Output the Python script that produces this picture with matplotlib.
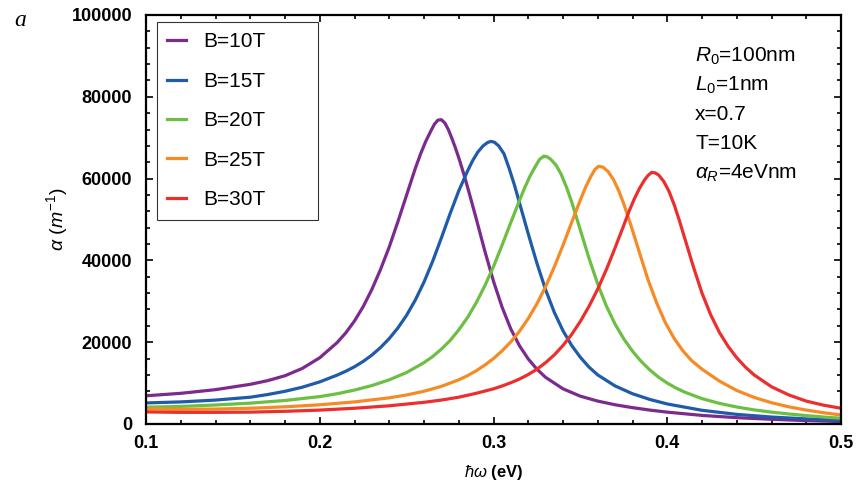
#!/usr/bin/env python
import matplotlib
matplotlib.use("Agg")
import matplotlib.pyplot as plt
from matplotlib.ticker import MultipleLocator

plt.rcParams['font.family'] = ['Liberation Sans', 'DejaVu Sans']
plt.rcParams['mathtext.fontset'] = 'custom'
plt.rcParams['mathtext.rm'] = 'Liberation Sans'
plt.rcParams['mathtext.it'] = 'Liberation Sans:italic'
plt.rcParams['mathtext.bf'] = 'Liberation Sans:bold'

# absorption coefficient (hbar*omega in eV, alpha in 1/m)
x_b10 = [0.10, 0.12, 0.14, 0.16, 0.17, 0.18, 0.19, 0.20, 0.21, 0.215, 0.22, 0.225,
         0.23, 0.235, 0.24, 0.245, 0.25, 0.255, 0.258, 0.261, 0.264, 0.266, 0.268,
         0.270, 0.272, 0.274, 0.276, 0.278, 0.28, 0.283, 0.286, 0.29, 0.295, 0.30,
         0.305, 0.31, 0.315, 0.32, 0.325, 0.33, 0.34, 0.35, 0.36, 0.37, 0.38, 0.39,
         0.40, 0.42, 0.44, 0.46, 0.48, 0.50]
y_b10 = [6900, 7500, 8400, 9700, 10600, 11800, 13600, 16200, 19900, 22300, 25200, 28700,
         32900, 37800, 43300, 49500, 56000, 62500, 66000, 69100, 71700, 73300, 74300,
         74400, 73600, 72000, 69900, 67600, 65100, 61000, 56500, 50300, 42300, 34900,
         28500, 23200, 19100, 15900, 13400, 11400, 8600, 6800, 5600, 4700, 4000, 3400,
         2900, 2100, 1550, 1150, 830, 600]

x_b15 = [0.10, 0.12, 0.14, 0.16, 0.17, 0.18, 0.19, 0.20, 0.21, 0.215, 0.22, 0.225,
         0.23, 0.235, 0.24, 0.245, 0.25, 0.255, 0.26, 0.265, 0.27, 0.275, 0.28,
         0.285, 0.288, 0.291, 0.294, 0.2965, 0.2985, 0.3005, 0.303, 0.306, 0.309,
         0.312, 0.315, 0.32, 0.325, 0.33, 0.335, 0.34, 0.345, 0.35, 0.355, 0.36,
         0.37, 0.38, 0.39, 0.40, 0.42, 0.44, 0.46, 0.48, 0.50]
y_b15 = [5150, 5400, 5850, 6550, 7200, 8000, 9000, 10300, 11950, 12900, 14000, 15300,
         16850, 18700, 20900, 23500, 26600, 30300, 34700, 39800, 45500, 51400, 57000,
         61800, 64400, 66500, 68000, 68800, 69100, 68900, 68000, 66100, 62500,
         58500, 54000, 46500, 39300, 32800, 27300, 22800, 19200, 16300, 13900, 12000,
         9300, 7400, 6000, 4900, 3350, 2350, 1700, 1250, 900]

x_b20 = [0.10, 0.12, 0.14, 0.16, 0.18, 0.20, 0.21, 0.22, 0.23, 0.24, 0.25, 0.26,
         0.265, 0.27, 0.275, 0.28, 0.285, 0.29, 0.295, 0.30, 0.305, 0.31, 0.315,
         0.318, 0.321, 0.324, 0.3265, 0.329, 0.331, 0.333, 0.336, 0.339, 0.342,
         0.345, 0.35, 0.355, 0.36, 0.365, 0.37, 0.375, 0.38, 0.385, 0.39, 0.395,
         0.40, 0.405, 0.41, 0.42, 0.43, 0.44, 0.45, 0.46, 0.47, 0.48, 0.49, 0.50]
y_b20 = [4100, 4300, 4650, 5100, 5750, 6700, 7400, 8300, 9400, 10800, 12600, 15000,
         16500, 18300, 20400, 23000, 26000, 29600, 33800, 38500, 43800, 49300, 54700,
         57800, 60600, 62900, 64700, 65500, 65300, 64700, 63300, 61000, 57900,
         54300, 47400, 40500, 34200, 28800, 24400, 20800, 17800, 15300, 13200, 11450,
         10000, 8800, 7800, 6200, 5050, 4150, 3450, 2900, 2450, 2050, 1700, 1400]

x_b25 = [0.10, 0.12, 0.14, 0.16, 0.18, 0.20, 0.22, 0.24, 0.25, 0.26, 0.27, 0.28,
         0.285, 0.29, 0.295, 0.30, 0.305, 0.31, 0.315, 0.32, 0.325, 0.33, 0.335,
         0.34, 0.345, 0.35, 0.353, 0.356, 0.3585, 0.3605, 0.363, 0.366, 0.369, 0.372,
         0.375, 0.379, 0.384, 0.389, 0.394, 0.399, 0.404, 0.409, 0.414, 0.42, 0.43,
         0.44, 0.45, 0.46, 0.47, 0.48, 0.49, 0.50]
y_b25 = [3700, 3600, 3650, 3850, 4200, 4700, 5400, 6400, 7100, 8000, 9200, 10800,
         11800, 13000, 14400, 16000, 17900, 20100, 22700, 25800, 29400, 33600, 38400,
         43700, 49300, 54800, 57900, 60500, 62300, 63000, 62800, 61700, 59800, 57100,
         53800, 48700, 41900, 35200, 29500, 24700, 20900, 17900, 15500, 13400, 10500,
         8200, 6500, 5200, 4200, 3400, 2750, 2200]

x_b30 = [0.10, 0.12, 0.14, 0.16, 0.18, 0.20, 0.22, 0.24, 0.26, 0.27, 0.28, 0.29,
         0.30, 0.305, 0.31, 0.315, 0.32, 0.325, 0.33, 0.335, 0.34, 0.345, 0.35,
         0.355, 0.36, 0.365, 0.37, 0.375, 0.378, 0.381, 0.384, 0.387, 0.389, 0.391,
         0.393, 0.395, 0.398, 0.401, 0.404, 0.407, 0.41, 0.415, 0.42, 0.425, 0.43,
         0.435, 0.44, 0.445, 0.45, 0.46, 0.47, 0.48, 0.49, 0.50]
y_b30 = [2950, 2850, 2850, 2900, 3100, 3400, 3850, 4450, 5300, 5850, 6550, 7500,
         8600, 9300, 10100, 11000, 12100, 13400, 15000, 16900, 19200, 21900, 25100,
         28800, 33000, 37800, 43100, 48600, 52000, 55000, 57600, 59700, 60800, 61500,
         61400, 60900, 59300, 56900, 53600, 49700, 45500, 38500, 32000, 26700, 22400,
         19000, 16200, 13900, 12000, 9100, 7100, 5600, 4600, 3850]

labels = ['B=10T', 'B=15T', 'B=20T', 'B=25T', 'B=30T']
colors = ['#7b2a8e', '#1f5ba8', '#6cbf43', '#f68b25', '#eb2f2f']
series = [(x_b10, y_b10), (x_b15, y_b15), (x_b20, y_b20), (x_b25, y_b25), (x_b30, y_b30)]

fig = plt.figure(figsize=(8.6, 4.92), dpi=100)
ax = fig.add_axes([146/860, 1 - 424/492, (841 - 146)/860, (424 - 15)/492])

for (xs, ys), lab, c in zip(series, labels, colors):
    ax.plot(xs, ys, color=c, lw=2.3, label=lab, solid_joinstyle='round')

ax.set_xlim(0.1, 0.5)
ax.set_ylim(0, 100000)
ax.xaxis.set_major_locator(MultipleLocator(0.1))
ax.xaxis.set_minor_locator(MultipleLocator(0.02))
ax.yaxis.set_major_locator(MultipleLocator(20000))
ax.yaxis.set_minor_locator(MultipleLocator(4000))
ax.xaxis.set_major_formatter(plt.FuncFormatter(lambda v, p: ('%.1f' % v)))
ax.tick_params(which='both', direction='in', top=True, right=True, width=1.2)
ax.tick_params(which='major', length=5, labelsize=13)
ax.tick_params(axis='y', which='major', pad=10)
ax.tick_params(axis='x', which='major', pad=8)
ax.tick_params(which='minor', length=3)
for lbl in ax.get_xticklabels() + ax.get_yticklabels():
    lbl.set_fontweight('bold')
for s in ax.spines.values():
    s.set_linewidth(1.6)

ax.set_xlabel(r'$\hbar\omega$ (eV)', fontsize=12, fontweight='bold', labelpad=8)
ax.set_ylabel(r'$\alpha\ (m^{-1})$', fontsize=14, fontweight='bold', labelpad=1)

leg = ax.legend(loc='upper left', mode='expand',
                bbox_to_anchor=(157/860, 1 - 218/492, 161/860, 196/492),
                bbox_transform=fig.transFigure, fontsize=15, frameon=True,
                fancybox=False, edgecolor='black', handlelength=0.9,
                handletextpad=0.8, labelspacing=0.98, borderpad=0.5,
                borderaxespad=0)
leg.get_frame().set_linewidth(0.8)

params = [r'$R_0$=100nm', r'$L_0$=1nm', 'x=0.7', 'T=10K', r'$\alpha_R$=4eVnm']
for i, t in enumerate(params):
    ax.text(0.79, 0.9 - i * 0.0715, t, transform=ax.transAxes, fontsize=15,
            va='center', ha='left')

fig.text(14/860, 1 - 20/492, 'a', fontsize=17, style='italic',
         family='Liberation Serif', va='center')

fig.savefig('out.png', dpi=100)
